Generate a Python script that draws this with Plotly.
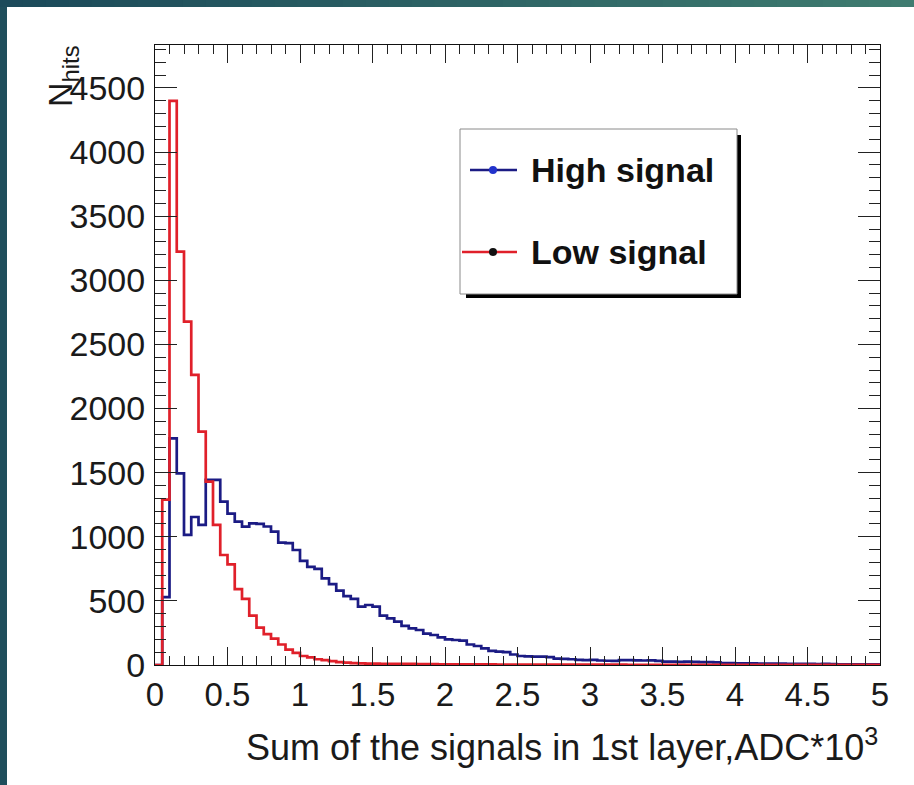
import numpy as np
import plotly.graph_objects as go

# ---------------- data ----------------
bin_width = 0.05
n_bins = 100
bin_edges = [round(i * bin_width, 2) for i in range(n_bins + 1)]

high_signal = [
    0, 530, 1768, 1495, 1014, 1154, 1092, 1443, 1443, 1274,
    1180, 1118, 1079, 1105, 1100, 1080, 1040, 955, 950, 897,
    812, 765, 750, 675, 630, 580, 537, 515, 455, 468,
    455, 385, 364, 338, 305, 286, 273, 245, 234, 215,
    200, 195, 190, 160, 148, 130, 110, 105, 100, 82,
    70, 68, 65, 65, 62, 50, 48, 45, 40, 38,
    40, 35, 33, 32, 38, 38, 36, 35, 36, 32,
    26, 26, 25, 26, 24, 22, 22, 20, 15, 14,
    13, 12, 12, 11, 10, 10, 10, 9, 9, 8,
    8, 7, 8, 7, 6, 6, 6, 5, 5, 5,
]

low_signal = [
    0, 1290, 4400, 3224, 2678, 2262, 1820, 1430, 1092, 858,
    785, 592, 515, 385, 292, 240, 205, 160, 120, 95,
    70, 60, 45, 38, 30, 22, 18, 15, 12, 11,
    10, 9, 9, 8, 8, 8, 7, 7, 7, 6,
    6, 6, 5, 5, 5, 5, 5, 4, 4, 4,
    4, 4, 4, 4, 3, 3, 3, 3, 3, 3,
    3, 3, 3, 3, 3, 2, 2, 2, 2, 2,
    2, 2, 2, 2, 2, 2, 2, 2, 2, 2,
    2, 2, 1, 1, 1, 1, 1, 1, 1, 1,
    1, 1, 1, 1, 1, 1, 1, 1, 1, 1,
]

series_names = ["High signal", "Low signal"]
x_ticks = [0, 0.5, 1, 1.5, 2, 2.5, 3, 3.5, 4, 4.5, 5]
x_tick_labels = ["0", "0.5", "1", "1.5", "2", "2.5", "3", "3.5", "4", "4.5", "5"]
y_ticks = [0, 500, 1000, 1500, 2000, 2500, 3000, 3500, 4000, 4500]
y_tick_labels = [str(v) for v in y_ticks]

x_title = "Sum of the signals in 1st layer,ADC*10<sup>3</sup>"
y_title = "N<sub>hits</sub>"

# ---------------- layout geometry ----------------
W, H = 914, 785
L, R, T, B = 155, 34, 45, 120
PW, PH = W - L - R, H - T - B


def xp(px):
    return (px - L) / PW


def yp(py):
    return (H - B - py) / PH


BLUE = "#1b1b84"
RED = "#e0202a"
SERIES_COLORS = [BLUE, RED]
DOT_COLORS = ["#2233cc", "#111111"]
FONT = "Liberation Sans, Arial, Helvetica, sans-serif"
TXT = "#1a1a1a"

fig = go.Figure()

# histograms drawn as steps (blue first, red on top)
for name, vals, col in zip(series_names, [high_signal, low_signal], SERIES_COLORS):
    fig.add_trace(go.Scatter(
        x=bin_edges, y=vals + [vals[-1]],
        mode="lines", line=dict(color=col, width=2.7, shape="hv"),
        showlegend=False, name=name, hoverinfo="skip"))

# ---------------- background bands ----------------
shapes = []
shapes.append(dict(type="rect", xref="paper", yref="paper",
                   x0=xp(0), x1=xp(7), y0=yp(H), y1=yp(0),
                   fillcolor="#1f4e5c", line=dict(width=0), layer="below"))
c0 = np.array([0x1c, 0x4a, 0x5a])
c1 = np.array([0x3f, 0x7c, 0x70])
nseg = 40
for i in range(nseg):
    f = i / (nseg - 1)
    c = (c0 * (1 - f) + c1 * f).astype(int)
    shapes.append(dict(type="rect", xref="paper", yref="paper",
                       x0=xp(W * i / nseg), x1=xp(W * (i + 1) / nseg + 1),
                       y0=yp(7), y1=yp(0),
                       fillcolor="rgb(%d,%d,%d)" % tuple(c),
                       line=dict(width=0), layer="below"))

# ---------------- legend (ROOT TLegend style box with shadow) ----------------
bx0, by0, bx1, by1 = 460, 129, 737, 294
shapes.append(dict(type="rect", xref="paper", yref="paper",
                   x0=xp(bx0 + 6), x1=xp(bx1 + 4), y0=yp(by1 + 4), y1=yp(by0 + 6),
                   fillcolor="#000000", line=dict(width=0), layer="above"))
shapes.append(dict(type="rect", xref="paper", yref="paper",
                   x0=xp(bx0), x1=xp(bx1), y0=yp(by1), y1=yp(by0),
                   fillcolor="white", line=dict(color="#8a8a8a", width=1), layer="above"))

annotations = []
entry_y = [170, 252]
line_x = [(470, 517), (462, 517)]
for name, ey, (lx0, lx1), col, dcol in zip(series_names, entry_y, line_x, SERIES_COLORS, DOT_COLORS):
    shapes.append(dict(type="line", xref="paper", yref="paper",
                       x0=xp(lx0), x1=xp(lx1), y0=yp(ey), y1=yp(ey),
                       line=dict(color=col, width=2.7), layer="above"))
    shapes.append(dict(type="circle", xref="paper", yref="paper",
                       x0=xp(493 - 4), x1=xp(493 + 4), y0=yp(ey + 4), y1=yp(ey - 4),
                       fillcolor=dcol, line=dict(color=dcol, width=0), layer="above"))
    annotations.append(dict(text=name, xref="paper", yref="paper",
                            x=xp(529), y=yp(ey), xanchor="left", yanchor="middle",
                            showarrow=False,
                            font=dict(family=FONT, size=34, color="#111111", weight="bold")))

annotations += [
    dict(text=x_title, xref="paper", yref="paper", x=1.0, y=yp(745),
         xanchor="right", yanchor="middle", showarrow=False,
         font=dict(family=FONT, size=36, color=TXT)),
    dict(text=y_title, xref="paper", yref="paper", x=xp(62), y=yp(76),
         xanchor="center", yanchor="middle", showarrow=False, textangle=-90,
         font=dict(family=FONT, size=34, color=TXT)),
]

fig.update_layout(
    width=W, height=H,
    margin=dict(l=L, r=R, t=T, b=B),
    paper_bgcolor="white", plot_bgcolor="white",
    shapes=shapes, annotations=annotations,
    showlegend=False,
    xaxis=dict(
        range=[0, 5], tickvals=x_ticks, ticktext=x_tick_labels,
        ticks="inside", ticklen=18, tickwidth=1, tickcolor="#222",
        minor=dict(dtick=0.1, ticks="inside", ticklen=9, tickcolor="#222", showgrid=False),
        showline=True, linecolor="#111", linewidth=1, mirror="allticks",
        showgrid=False, zeroline=False, ticklabelstandoff=0,
        tickfont=dict(family=FONT, size=33, color=TXT),
    ),
    yaxis=dict(
        range=[0, 4835], tickvals=y_ticks, ticktext=y_tick_labels,
        ticks="inside", ticklen=22, tickwidth=1, tickcolor="#222",
        minor=dict(dtick=100, ticks="inside", ticklen=11, tickcolor="#222", showgrid=False),
        showline=True, linecolor="#111", linewidth=1, mirror="allticks",
        showgrid=False, zeroline=False, ticklabelstandoff=2,
        tickfont=dict(family=FONT, size=34, color=TXT),
    ),
)

fig.write_html("out.html")
